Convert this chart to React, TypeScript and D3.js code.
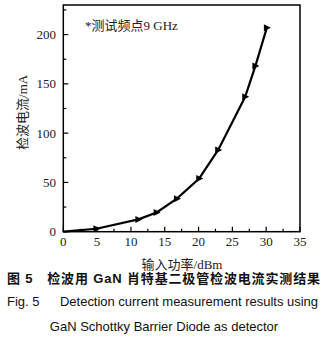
import React from "react";
import * as d3 from "d3";

const powerDbm = [0, 4.9, 11.1, 13.8, 16.8, 20.1, 22.9, 26.9, 28.4, 30.1];
const currentMa = [0, 3, 12.5, 19.5, 33.5, 54, 83, 137, 168, 207];
const xTicks = [0, 5, 10, 15, 20, 25, 30, 35];
const yTicks = [0, 50, 100, 150, 200];
const xMinor = [2.5, 7.5, 12.5, 17.5, 22.5, 27.5, 32.5];
const yMinor = [25, 75, 125, 175, 225];

const W = 329;
const H = 340;
const L = 63.3;
const R = 300;
const T = 5;
const B = 231.7;

export default function App() {
  const x = d3.scaleLinear().domain([0, 35]).range([L, R]);
  const y = d3.scaleLinear().domain([0, 230]).range([B, T]);
  const pts: [number, number][] = powerDbm.map((p, i) => [p, currentMa[i]]);
  const line = d3
    .line<[number, number]>()
    .x((d) => x(d[0]))
    .y((d) => y(d[1]));
  const serif = "'Liberation Serif', 'Noto Sans CJK SC', serif";
  const sans = "'Liberation Sans', 'Noto Sans CJK SC', sans-serif";
  return (
    <svg
      width={W}
      height={H}
      style={{ position: "absolute", left: 0, top: 0, background: "#fff" }}
    >
      <rect x={L} y={T} width={R - L} height={B - T} fill="none" stroke="#000" strokeWidth={1.5} />
      {xTicks.map((t) => (
        <g key={"xt" + t}>
          <line x1={x(t)} x2={x(t)} y1={B} y2={B - 5} stroke="#000" strokeWidth={1.2} />
          <text x={x(t)} y={246} textAnchor="middle" fontFamily={serif} fontSize={13} fill="#222">
            {t}
          </text>
        </g>
      ))}
      {xMinor.map((t) => (
        <line key={"xm" + t} x1={x(t)} x2={x(t)} y1={B} y2={B - 3} stroke="#000" strokeWidth={1.2} />
      ))}
      {yTicks.map((t) => (
        <g key={"yt" + t}>
          <line x1={L} x2={L + 5} y1={y(t)} y2={y(t)} stroke="#000" strokeWidth={1.2} />
          <text x={56} y={y(t) + 4.5} textAnchor="end" fontFamily={serif} fontSize={13} fill="#222">
            {t}
          </text>
        </g>
      ))}
      {yMinor.map((t) => (
        <line key={"ym" + t} x1={L} x2={L + 3} y1={y(t)} y2={y(t)} stroke="#000" strokeWidth={1.2} />
      ))}
      <path d={line(pts) || ""} fill="none" stroke="#000" strokeWidth={2.2} strokeLinejoin="round" />
      {pts.slice(1).map((d, i) => {
        const cx = x(d[0]);
        const cy = y(d[1]);
        return (
          <path
            key={"m" + i}
            d={`M${cx - 3},${cy - 3.5} L${cx + 4},${cy} L${cx - 3},${cy + 3.5} Z`}
            fill="#000"
          />
        );
      })}
      <text x={85} y={30} fontFamily={serif} fontSize={13} fill="#222">
        *测试频点9 GHz
      </text>
      <text
        transform={`translate(27,${(T + B) / 2 - 6}) rotate(-90)`}
        textAnchor="middle"
        fontFamily={serif}
        fontSize={13}
        fill="#222"
      >
        检波电流/mA
      </text>
      <text x={182} y={269} textAnchor="middle" fontFamily={serif} fontSize={13} fill="#222">
        输入功率/dBm
      </text>
      <text
        x={7}
        y={283}
        fontFamily={sans}
        fontSize={13}
        fontWeight="bold"
        fill="#111"
        textLength={313}
        lengthAdjust="spacing"
        style={{ whiteSpace: "pre" }}
      >
        {"图 5　检波用 GaN 肖特基二极管检波电流实测结果"}
      </text>
      <text x={7} y={306} fontFamily={sans} fontSize={13} fill="#111">
        Fig. 5
      </text>
      <text
        x={60}
        y={306}
        fontFamily={sans}
        fontSize={13}
        fill="#111"
        textLength={258}
        lengthAdjust="spacing"
      >
        Detection current measurement results using
      </text>
      <text x={164} y={331} textAnchor="middle" fontFamily={sans} fontSize={13} fill="#111">
        GaN Schottky Barrier Diode as detector
      </text>
    </svg>
  );
}
